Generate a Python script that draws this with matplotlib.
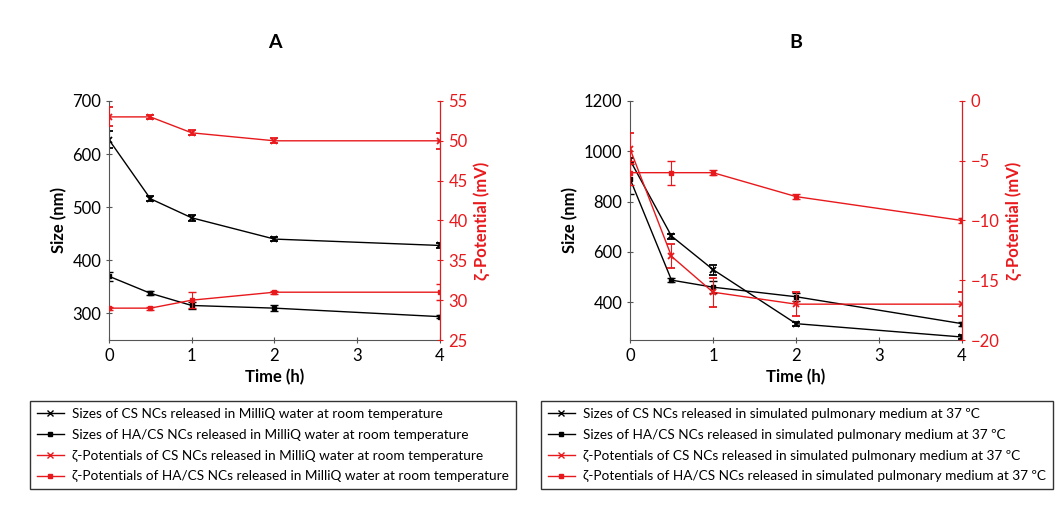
import matplotlib.pyplot as plt
from matplotlib.lines import Line2D

plt.rcParams['font.family'] = ['Lato', 'DejaVu Sans']

# time points (h)
time = [0, 0.5, 1, 2, 4]

# panel A - MilliQ water, room temperature
a_size_cs = [627, 516, 480, 440, 428]
a_size_cs_err = [16, 5, 6, 4, 4]
a_size_hacs = [370, 338, 315, 310, 294]
a_size_hacs_err = [8, 4, 6, 5, 3]
a_zeta_cs = [53, 53, 51, 50, 50]
a_zeta_cs_err = [1.2, 0.3, 0.3, 0.3, 1.0]
a_zeta_hacs = [29, 29, 30, 31, 31]
a_zeta_hacs_err = [0.2, 0.2, 1.0, 0.2, 1.0]

# panel B - simulated pulmonary medium, 37 ºC
b_size_cs = [965, 663, 530, 315, 262]
b_size_cs_err = [8, 10, 20, 8, 8]
b_size_hacs = [891, 488, 460, 422, 315]
b_size_hacs_err = [60, 8, 25, 15, 8]
b_zeta_cs = [-4, -13, -16, -17, -17]
b_zeta_cs_err = [1.3, 1.0, 1.2, 1.0, 1.0]
b_zeta_hacs = [-6, -6, -6, -8, -10]
b_zeta_hacs_err = [1.0, 1.0, 0.2, 0.2, 0.2]

red = '#e8191c'

fig = plt.figure(figsize=(10.59, 5.13), dpi=100)


def panel(rect, title, size_cs, size_cs_err, size_hacs, size_hacs_err,
          zeta_cs, zeta_cs_err, zeta_hacs, zeta_hacs_err,
          ylim, yticks, y2lim, y2ticks):
    ax = fig.add_axes(rect)
    ax2 = ax.twinx()
    ax.errorbar(time, size_cs, yerr=size_cs_err, color='black', marker='x',
                ms=5, mew=1.3, lw=1, capsize=3, elinewidth=0.8)
    ax.errorbar(time, size_hacs, yerr=size_hacs_err, color='black', marker='s',
                ms=3.5, lw=1, capsize=3, elinewidth=0.8)
    ax2.errorbar(time, zeta_cs, yerr=zeta_cs_err, color=red, marker='x',
                 ms=5, mew=1.3, lw=1, capsize=3, elinewidth=0.8)
    ax2.errorbar(time, zeta_hacs, yerr=zeta_hacs_err, color=red, marker='s',
                 ms=3.5, lw=1, capsize=3, elinewidth=0.8)
    ax.set_xlim(0, 4)
    ax.set_xticks([0, 1, 2, 3, 4])
    ax.set_ylim(*ylim)
    ax.set_yticks(yticks)
    ax2.set_ylim(*y2lim)
    ax2.set_yticks(y2ticks)
    for a in (ax, ax2):
        a.spines['top'].set_visible(False)
    ax.spines['left'].set_color('#555555')
    ax.spines['bottom'].set_color('#555555')
    ax2.spines['left'].set_visible(False)
    ax2.spines['bottom'].set_visible(False)
    ax2.spines['right'].set_color(red)
    ax.tick_params(axis='both', labelsize=12, length=4, direction='inout',
                   color='#555555')
    ax2.tick_params(axis='y', labelsize=12, length=5, direction='inout',
                    colors=red)
    ax.set_xlabel('Time (h)', fontsize=12, fontweight='bold')
    ax.set_ylabel('Size (nm)', fontsize=12, fontweight='bold')
    ax2.set_ylabel('ζ-Potential (mV)', fontsize=12, fontweight='bold', color=red)
    ax.set_title(title, fontsize=14, fontweight='bold', pad=38)
    return ax


panel([0.1029, 0.3372, 0.3126, 0.466], 'A',
      a_size_cs, a_size_cs_err, a_size_hacs, a_size_hacs_err,
      a_zeta_cs, a_zeta_cs_err, a_zeta_hacs, a_zeta_hacs_err,
      (250, 700), [300, 400, 500, 600, 700], (25, 55), [25, 30, 35, 40, 45, 50, 55])
panel([0.5949, 0.3372, 0.3135, 0.466], 'B',
      b_size_cs, b_size_cs_err, b_size_hacs, b_size_hacs_err,
      b_zeta_cs, b_zeta_cs_err, b_zeta_hacs, b_zeta_hacs_err,
      (250, 1200), [400, 600, 800, 1000, 1200], (-20, 0), [-20, -15, -10, -5, 0])


def handles(labels):
    styles = [('black', 'x'), ('black', 's'), (red, 'x'), (red, 's')]
    return [Line2D([], [], color=c, marker=m, ms=3 if m == 's' else 4, lw=1,
                   label=l) for (c, m), l in zip(styles, labels)]


labels_a = ['Sizes of CS NCs released in MilliQ water at room temperature',
            'Sizes of HA/CS NCs released in MilliQ water at room temperature',
            'ζ-Potentials of CS NCs released in MilliQ water at room temperature',
            'ζ-Potentials of HA/CS NCs released in MilliQ water at room temperature']
labels_b = ['Sizes of CS NCs released in simulated pulmonary medium at 37 ºC',
            'Sizes of HA/CS NCs released in simulated pulmonary medium at 37 ºC',
            'ζ-Potentials of CS NCs released in simulated pulmonary medium at 37 ºC',
            'ζ-Potentials of HA/CS NCs released in simulated pulmonary medium at 37 ºC']

for labels, x0 in ((labels_a, 30 / 1059), (labels_b, 541 / 1059)):
    leg = fig.legend(handles=handles(labels), loc='upper left',
                     bbox_to_anchor=(x0, 1 - 401 / 513), fontsize=9.8,
                     frameon=True, fancybox=False, handlelength=2.0,
                     handletextpad=0.6, labelspacing=0.65, borderpad=0.5,
                     borderaxespad=0)
    leg.get_frame().set_edgecolor('black')
    leg.get_frame().set_linewidth(1)

fig.savefig('out.png', dpi=100)
